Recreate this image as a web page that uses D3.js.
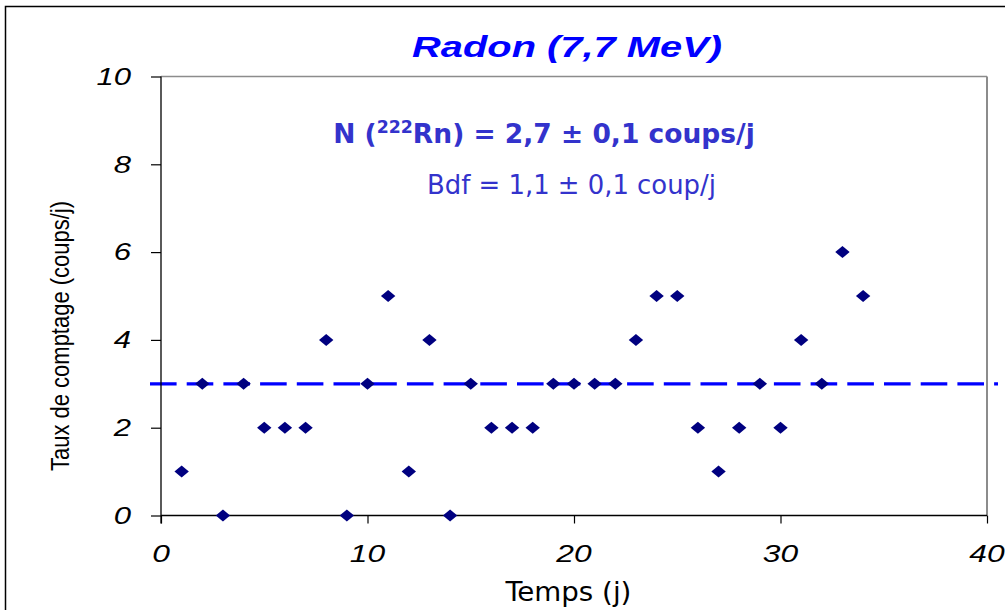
<!DOCTYPE html>
<html><head><meta charset="utf-8">
<script src="https://cdn.jsdelivr.net/npm/d3@7"></script>
<style>body{margin:0;background:#fff}svg{display:block}</style>
</head><body>
<script>
const days = [1,2,3,4,5,6,7,8,9,10,11,12,13,14,15,16,17,18,19,20,21,22,23,24,25,26,27,28,29,30,31,32,33,34];
const counts = [1,3,0,3,2,2,2,4,0,3,5,1,4,0,3,2,2,2,3,3,3,3,4,5,5,2,1,2,3,2,4,3,6,5];
const refLevel = 3;
const xTicks = [0,10,20,30,40];
const yTicks = [0,2,4,6,8,10];
const title = "Radon (7,7 MeV)";
const xLabel = "Temps (j)";
const yLabel = "Taux de comptage (coups/j)";

const W = 1005, H = 610;
const svg = d3.select("body").append("svg").attr("width", W).attr("height", H);
const ARIAL = "'Liberation Sans',Arial,sans-serif";
const TAHOMA = "'DejaVu Sans Condensed','DejaVu Sans',sans-serif";

// helper: text placed at (x,y) inside a horizontally scalable group
function stretchedText(x, y, opts) {
  const g = svg.append("g");
  const t = g.append("text").attr("x",0).attr("y",0)
    .attr("text-anchor", opts.anchor || "middle")
    .attr("font-family", opts.family).attr("font-size", opts.size)
    .attr("font-weight", opts.weight || "normal").attr("font-style", opts.style || "normal")
    .attr("fill", opts.fill || "#000");
  if (opts.build) opts.build(t); else t.text(opts.text);
  let sx = opts.sx || 1;
  if (opts.width) { sx = opts.width / t.node().getBBox().width; }
  g.attr("transform", `translate(${x},${y}) scale(${sx},1)${opts.rotate ? " rotate(" + opts.rotate + ")" : ""}`);
  return g;
}

// outer frame
svg.append("rect").attr("x",5.5).attr("y",6.5).attr("width",1100).attr("height",700)
  .attr("fill","none").attr("stroke","#000").attr("stroke-width",1.5);

const x = d3.scaleLinear().domain([0,40]).range([161,987]);
const y = d3.scaleLinear().domain([0,10]).range([515.5,76.5]);

// plot area top/right border (gray)
svg.append("line").attr("x1",161).attr("x2",987).attr("y1",y(10)).attr("y2",y(10))
  .attr("stroke","#8c8c8c").attr("stroke-width",1.5);
svg.append("line").attr("x1",987).attr("x2",987).attr("y1",y(10)).attr("y2",y(0))
  .attr("stroke","#8c8c8c").attr("stroke-width",2);

// dashed reference line
svg.append("line").attr("x1",150).attr("x2",998).attr("y1",y(refLevel)).attr("y2",y(refLevel))
  .attr("stroke","#0000ff").attr("stroke-width",3.2).attr("stroke-dasharray","26.6,10.1");

// axes
const xAxis = d3.axisBottom(x).tickValues(xTicks).tickSize(8).tickFormat("");
const gx = svg.append("g").attr("transform",`translate(0,${y(0)})`).call(xAxis);
gx.select(".domain").attr("stroke","#000").attr("stroke-width",1.3).attr("d",`M161,0H987`);
gx.selectAll(".tick line").attr("stroke","#000").attr("stroke-width",1.2);

const yAxis = d3.axisLeft(y).tickValues(yTicks).tickSize(10).tickFormat("");
const gy = svg.append("g").attr("transform",`translate(161,0)`).call(yAxis);
gy.select(".domain").attr("stroke","#000").attr("stroke-width",1.3).attr("d",`M0,${y(10)}V${y(0)+8}`);
gy.selectAll(".tick line").attr("stroke","#000").attr("stroke-width",1.2);

// tick labels (stretched like the reference)
xTicks.forEach(t => stretchedText(x(t), y(0)+46.5, {text:String(t), family:ARIAL, size:23, style:"italic", sx:1.38}));
yTicks.forEach(t => stretchedText(131, y(t)+8.2, {text:String(t), family:ARIAL, size:23, style:"italic", sx:1.35, anchor:"end"}));

// points
const diamond = { draw(ctx) { ctx.moveTo(0,-6); ctx.lineTo(7.2,0); ctx.lineTo(0,6); ctx.lineTo(-7.2,0); ctx.closePath(); } };
svg.append("g").selectAll("path").data(days).join("path")
  .attr("transform",(d,i)=>`translate(${x(d)},${y(counts[i])})`)
  .attr("d", d3.symbol().type(diamond)())
  .attr("fill","#000080");

// title
stretchedText(567, 57, {text:title, family:ARIAL, size:29, weight:"bold", style:"italic", fill:"#0000ff", width:310});

// annotations
stretchedText(544, 143, {family:TAHOMA, size:26, weight:"bold", fill:"#3333cc", width:422, build: t => {
  t.append("tspan").text("N (");
  t.append("tspan").attr("font-size",17).attr("dy",-10).text("222");
  t.append("tspan").attr("dy",10).text("Rn) = 2,7 ± 0,1 coups/j");
}});
stretchedText(571.5, 194, {text:"Bdf = 1,1 ± 0,1 coup/j", family:TAHOMA, size:26, fill:"#3333cc", width:289});

// axis labels
stretchedText(568.5, 601, {text:xLabel, family:TAHOMA, size:27, width:127});
stretchedText(69, 471, {text:yLabel, family:ARIAL, size:22, anchor:"start", sx:1.2, rotate:-90});
</script>
</body></html>
